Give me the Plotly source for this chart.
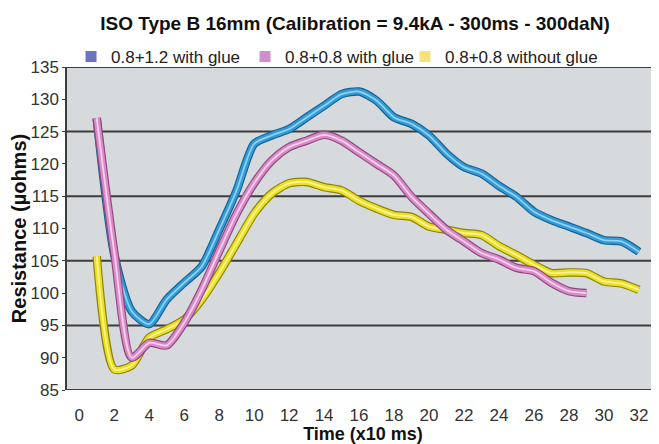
import plotly.graph_objects as go

# ---- data ----
time_blue = list(range(1, 33))
blue_vals = [127.0, 106.0, 97.2, 95.2, 99.0, 101.6, 104.1, 109.8, 115.9, 123.1,
             124.4, 125.4, 127.2, 129.0, 130.8, 131.2, 129.8, 127.2, 126.2, 124.4,
             121.6, 119.5, 118.5, 116.6, 114.9, 112.6, 111.3, 110.3, 109.3, 108.2,
             108.0, 106.4]

time_pink = list(range(1, 30))
pink_vals = [127.1, 106.4, 90.0, 92.3, 91.9, 95.4, 100.5, 106.5, 112.3, 117.0,
             120.5, 122.6, 123.6, 124.5, 123.6, 121.8, 120.0, 118.2, 114.9, 112.3,
             109.8, 108.0, 106.2, 105.2, 103.9, 103.4, 101.6, 100.3, 100.0]

time_yellow = list(range(1, 33))
yellow_vals = [105.7, 88.2, 88.8, 93.1, 94.4, 95.9, 99.0, 103.1, 107.7, 112.3,
               115.4, 117.0, 117.2, 116.4, 115.9, 114.3, 113.1, 112.1, 111.8, 110.3,
               109.8, 109.3, 109.0, 107.3, 105.9, 104.4, 103.1, 103.2, 103.1, 101.8,
               101.5, 100.5]

series_names = ["0.8+1.2 with glue", "0.8+0.8 with glue", "0.8+0.8 without glue"]
x_tick_vals = list(range(0, 33, 2))
y_tick_vals = list(range(85, 136, 5))
grid_levels = [85, 95, 105, 115, 125, 135]

FONT = "Liberation Sans, Arial, sans-serif"

fig = go.Figure()

# tube-like lines: dark outline, main colour, light highlight
styles = {
    "yellow": ("#8c8212", "#ece01c", "#fbf39a"),
    "blue": ("#1c5f8e", "#2f9bd8", "#8fd0f2"),
    "pink": ("#8e4a80", "#d98ac6", "#f6d0ec"),
}
draw = [("yellow", time_yellow, yellow_vals),
        ("blue", time_blue, blue_vals),
        ("pink", time_pink, pink_vals)]
for key, xs, ys in draw:
    dark, main, light = styles[key]
    for col, w in ((dark, 8.5), (main, 6.2), (light, 1.8)):
        fig.add_trace(go.Scatter(x=xs, y=ys, mode="lines",
                                 line=dict(color=col, width=w, shape="spline", smoothing=0.7),
                                 showlegend=False, hoverinfo="skip"))

legend_colors = ["#6b73c2", "#cf8fcf", "#f7e27a"]
legend_widths = [129, 115, 160]
for name, col, lw in zip(series_names, legend_colors, legend_widths):
    fig.add_trace(go.Scatter(x=[None], y=[None], mode="markers", name=name,
                             legendwidth=lw,
                             marker=dict(symbol="square", size=11, color=col)))

for g in grid_levels:
    fig.add_shape(type="line", xref="paper", x0=0, x1=1, yref="y", y0=g, y1=g,
                  line=dict(color="#3c3c3c", width=2), layer="below")

# the page body adds an 8px offset, so the figure is 8px smaller than the window
fig.update_layout(
    width=651, height=436,
    margin=dict(l=59, r=0, t=59, b=54, autoexpand=False),
    paper_bgcolor="white",
    plot_bgcolor="#d6dadc",
    font=dict(family=FONT, size=17, color="#333333"),
    title=dict(text="<b>ISO Type B 16mm (Calibration = 9.4kA - 300ms - 300daN)</b>",
               x=0.533, xanchor="center", y=0.964, yanchor="middle",
               font=dict(family=FONT, size=19, color="#111111")),
    legend=dict(orientation="h", x=0.0068, xanchor="left", y=1.031, yanchor="middle",
                font=dict(family=FONT, size=17, color="#222222"),
                bgcolor="rgba(0,0,0,0)", itemwidth=30, tracegroupgap=0),
    showlegend=True,
)
fig.update_xaxes(range=[-0.70, 33.15], tickvals=x_tick_vals, showgrid=False, zeroline=False,
                 showline=False, ticks="outside", ticklen=10, tickcolor="rgba(0,0,0,0)",
                 automargin=False,
                 title=dict(text="<b>Time (x10 ms)</b>", standoff=3,
                            font=dict(family=FONT, size=18, color="#111111")))
fig.update_yaxes(range=[85, 135], tickvals=y_tick_vals, showgrid=False, zeroline=False,
                 showline=True, linecolor="#3c3c3c", linewidth=1.5,
                 ticks="outside", ticklen=3, tickcolor="#3c3c3c", automargin=False,
                 title=dict(text="<b>Resistance (µohms)</b>", standoff=0,
                            font=dict(family=FONT, size=20, color="#111111")))

fig.write_html("out.html")
